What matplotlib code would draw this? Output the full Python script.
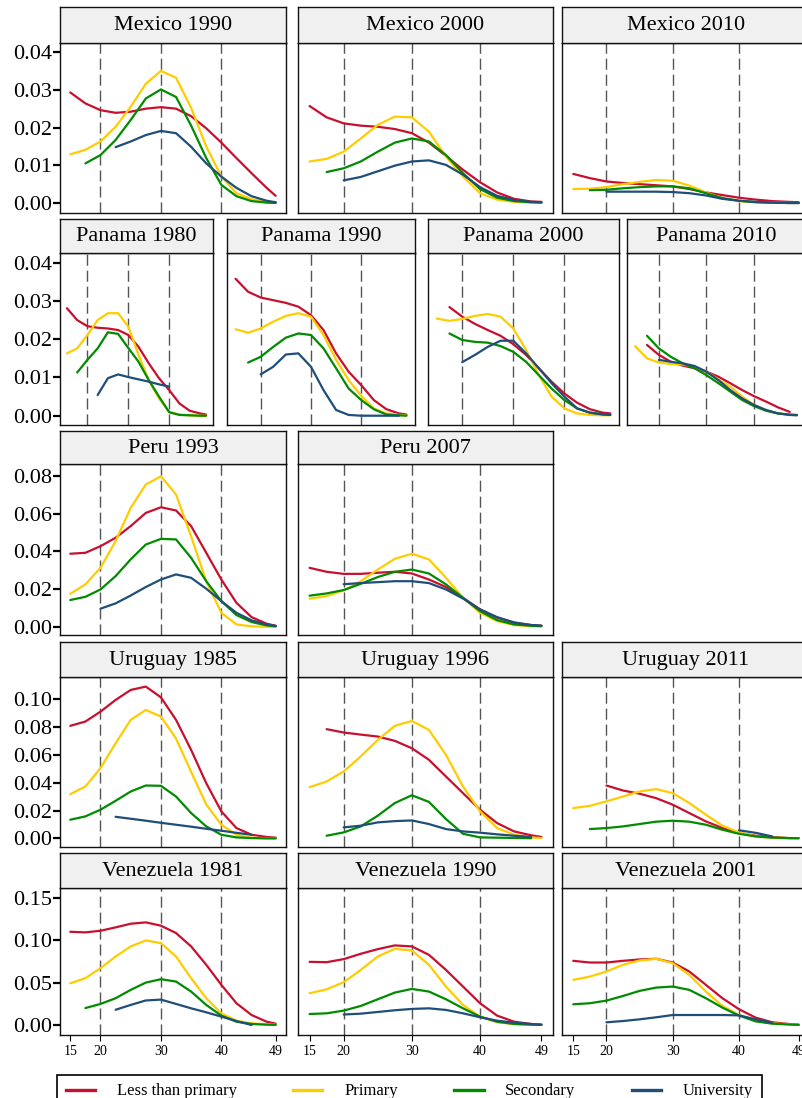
import numpy as np
import matplotlib.pyplot as plt
from matplotlib.lines import Line2D

plt.rcParams['font.family'] = ['Liberation Serif', 'DejaVu Serif']

N = None

# ages where each curve was read (None = curve not drawn at that age)
ages = [15, 17.5, 20, 22.5, 25, 27.5, 30, 32.5, 35, 37.5, 40, 42.5, 45, 47.5, 49]
education = ['Less than primary', 'Primary', 'Secondary', 'University']
colors = ['#C8102E', '#FFCC00', '#008B00', '#1F4E79']

# Mexico
mex1990_ltp = [0.0293, 0.0264, 0.0246, 0.0239, 0.0242, 0.0250, 0.0254, 0.0250, 0.0230, 0.0198, 0.0160, 0.0119, 0.0079, 0.0040, 0.0019]
mex1990_pri = [0.0129, 0.0141, 0.0163, 0.0202, 0.0255, 0.0316, 0.0350, 0.0332, 0.0252, 0.0150, 0.0070, 0.0026, 0.0010, 0.0003, 0.0002]
mex1990_sec = [N, 0.0105, 0.0127, 0.0167, 0.0220, 0.0277, 0.0301, 0.0281, 0.0205, 0.0119, 0.0048, 0.0018, 0.0005, 0.0001, 0.0000]
mex1990_uni = [N, N, N, 0.0148, 0.0163, 0.0180, 0.0191, 0.0185, 0.0149, 0.0105, 0.0070, 0.0040, 0.0018, 0.0006, 0.0002]

mex2000_ltp = [0.0257, 0.0227, 0.0211, 0.0205, 0.0202, 0.0196, 0.0185, 0.0160, 0.0125, 0.0088, 0.0055, 0.0028, 0.0011, 0.0004, 0.0003]
mex2000_pri = [0.0110, 0.0117, 0.0136, 0.0171, 0.0207, 0.0229, 0.0227, 0.0189, 0.0123, 0.0070, 0.0026, 0.0009, 0.0003, 0.0001, 0.0001]
mex2000_sec = [N, 0.0082, 0.0092, 0.0110, 0.0136, 0.0160, 0.0171, 0.0163, 0.0127, 0.0079, 0.0037, 0.0014, 0.0005, 0.0002, 0.0001]
mex2000_uni = [N, N, 0.0060, 0.0069, 0.0084, 0.0099, 0.0110, 0.0113, 0.0101, 0.0075, 0.0042, 0.0019, 0.0008, 0.0003, 0.0002]

mex2010_ltp = [0.0077, 0.0066, 0.0057, 0.0053, 0.0050, 0.0047, 0.0044, 0.0037, 0.0028, 0.0021, 0.0014, 0.0009, 0.0005, 0.0003, 0.0002]
mex2010_pri = [0.0037, 0.0038, 0.0042, 0.0050, 0.0056, 0.0061, 0.0059, 0.0046, 0.0028, 0.0013, 0.0005, 0.0002, 0.0001, 0.0000, 0.0000]
mex2010_sec = [N, 0.0034, 0.0035, 0.0039, 0.0042, 0.0044, 0.0044, 0.0039, 0.0026, 0.0013, 0.0006, 0.0002, 0.0001, 0.0000, 0.0000]
mex2010_uni = [N, N, 0.0030, 0.0030, 0.0030, 0.0030, 0.0029, 0.0026, 0.0020, 0.0011, 0.0006, 0.0003, 0.0001, 0.0000, 0.0000]

# Panama
pan1980_ltp = [0.0281, 0.0250, 0.0234, 0.0230, 0.0228, 0.0224, 0.0211, 0.0180, 0.0137, 0.0098, 0.0067, 0.0032, 0.0013, 0.0006, 0.0003]
pan1980_pri = [0.0163, 0.0176, 0.0211, 0.0250, 0.0268, 0.0268, 0.0233, 0.0159, 0.0093, 0.0045, 0.0010, 0.0003, 0.0001, 0.0000, 0.0000]
pan1980_sec = [N, 0.0113, 0.0146, 0.0176, 0.0218, 0.0214, 0.0177, 0.0141, 0.0093, 0.0050, 0.0009, 0.0002, 0.0001, 0.0000, 0.0000]
pan1980_uni = [N, N, N, 0.0054, 0.0098, 0.0108, 0.0101, 0.0095, 0.0089, 0.0082, 0.0076, N, N, N, N]

pan1990_ltp = [0.0358, 0.0324, 0.0309, 0.0302, 0.0295, 0.0285, 0.0263, 0.0224, 0.0163, 0.0115, 0.0080, 0.0041, 0.0017, 0.0006, 0.0003]
pan1990_pri = [0.0226, 0.0217, 0.0228, 0.0246, 0.0261, 0.0268, 0.0259, 0.0211, 0.0146, 0.0093, 0.0052, 0.0019, 0.0006, 0.0002, 0.0001]
pan1990_sec = [N, 0.0139, 0.0154, 0.0180, 0.0204, 0.0215, 0.0211, 0.0176, 0.0124, 0.0071, 0.0041, 0.0017, 0.0003, 0.0001, 0.0000]
pan1990_uni = [N, N, 0.0108, 0.0128, 0.0160, 0.0163, 0.0128, 0.0067, 0.0015, 0.0002, 0.0000, 0.0000, 0.0000, 0.0000, N]

pan2000_ltp = [N, 0.0284, 0.0259, 0.0240, 0.0224, 0.0209, 0.0187, 0.0159, 0.0124, 0.0089, 0.0058, 0.0034, 0.0017, 0.0008, 0.0006]
pan2000_pri = [0.0254, 0.0248, 0.0253, 0.0261, 0.0266, 0.0259, 0.0228, 0.0172, 0.0106, 0.0050, 0.0019, 0.0006, 0.0002, 0.0001, 0.0001]
pan2000_sec = [N, 0.0215, 0.0198, 0.0193, 0.0191, 0.0182, 0.0167, 0.0141, 0.0106, 0.0071, 0.0041, 0.0019, 0.0008, 0.0004, 0.0003]
pan2000_uni = [N, N, 0.0140, 0.0159, 0.0180, 0.0196, 0.0196, 0.0163, 0.0124, 0.0085, 0.0050, 0.0019, 0.0008, 0.0003, 0.0002]

pan2010_ltp = [N, 0.0185, 0.0159, 0.0141, 0.0131, 0.0124, 0.0115, 0.0102, 0.0085, 0.0067, 0.0051, 0.0037, 0.0022, 0.0010, N]
pan2010_pri = [0.0182, 0.0150, 0.0139, 0.0135, 0.0134, 0.0128, 0.0115, 0.0095, 0.0076, 0.0050, 0.0028, 0.0015, 0.0006, 0.0002, 0.0002]
pan2010_sec = [N, 0.0209, 0.0176, 0.0154, 0.0137, 0.0124, 0.0106, 0.0085, 0.0063, 0.0041, 0.0025, 0.0013, 0.0006, 0.0003, 0.0002]
pan2010_uni = [N, N, 0.0146, 0.0141, 0.0137, 0.0130, 0.0115, 0.0093, 0.0067, 0.0045, 0.0028, 0.0015, 0.0006, 0.0002, 0.0001]

# Peru
per1993_ltp = [0.0388, 0.0393, 0.0428, 0.0473, 0.0535, 0.0605, 0.0635, 0.0618, 0.0535, 0.0393, 0.0251, 0.0127, 0.0051, 0.0016, 0.0005]
per1993_pri = [0.0175, 0.0225, 0.0313, 0.0455, 0.0632, 0.0756, 0.0800, 0.0703, 0.0480, 0.0242, 0.0074, 0.0012, 0.0002, 0.0000, 0.0000]
per1993_sec = [0.0142, 0.0159, 0.0198, 0.0269, 0.0358, 0.0437, 0.0467, 0.0464, 0.0366, 0.0242, 0.0136, 0.0062, 0.0025, 0.0007, 0.0002]
per1993_uni = [N, N, 0.0096, 0.0124, 0.0166, 0.0211, 0.0251, 0.0278, 0.0260, 0.0202, 0.0136, 0.0074, 0.0034, 0.0012, 0.0004]

per2007_ltp = [0.0313, 0.0292, 0.0281, 0.0281, 0.0287, 0.0292, 0.0283, 0.0251, 0.0211, 0.0154, 0.0092, 0.0048, 0.0021, 0.0009, 0.0005]
per2007_pri = [0.0149, 0.0163, 0.0193, 0.0242, 0.0304, 0.0361, 0.0388, 0.0358, 0.0260, 0.0154, 0.0074, 0.0030, 0.0009, 0.0003, 0.0002]
per2007_sec = [0.0165, 0.0177, 0.0195, 0.0228, 0.0264, 0.0292, 0.0304, 0.0283, 0.0225, 0.0154, 0.0083, 0.0035, 0.0012, 0.0005, 0.0003]
per2007_uni = [N, N, 0.0226, 0.0232, 0.0237, 0.0242, 0.0242, 0.0232, 0.0198, 0.0150, 0.0092, 0.0051, 0.0023, 0.0009, 0.0006]

# Uruguay
uru1985_ltp = [0.0809, 0.0840, 0.0911, 0.0995, 0.1067, 0.1091, 0.1014, 0.0852, 0.0636, 0.0397, 0.0194, 0.0074, 0.0026, 0.0010, 0.0005]
uru1985_pri = [0.0318, 0.0373, 0.0505, 0.0684, 0.0852, 0.0923, 0.0876, 0.0718, 0.0478, 0.0244, 0.0098, 0.0025, 0.0005, 0.0001, 0.0000]
uru1985_sec = [0.0134, 0.0158, 0.0206, 0.0270, 0.0337, 0.0380, 0.0378, 0.0301, 0.0182, 0.0086, 0.0026, 0.0007, 0.0002, 0.0000, 0.0000]
uru1985_uni = [N, N, N, 0.0155, 0.0141, 0.0127, 0.0112, 0.0098, 0.0084, 0.0069, 0.0055, 0.0040, 0.0026, N, N]

uru1996_ltp = [N, 0.0785, 0.0761, 0.0746, 0.0732, 0.0701, 0.0648, 0.0565, 0.0445, 0.0325, 0.0206, 0.0110, 0.0050, 0.0022, 0.0010]
uru1996_pri = [0.0368, 0.0409, 0.0481, 0.0589, 0.0708, 0.0809, 0.0844, 0.0780, 0.0600, 0.0373, 0.0194, 0.0074, 0.0026, 0.0007, 0.0002]
uru1996_sec = [N, 0.0019, 0.0043, 0.0086, 0.0163, 0.0254, 0.0310, 0.0262, 0.0139, 0.0033, 0.0007, 0.0005, 0.0003, 0.0001, N]
uru1996_uni = [N, N, 0.0079, 0.0091, 0.0115, 0.0124, 0.0129, 0.0103, 0.0067, 0.0050, 0.0041, 0.0029, 0.0019, 0.0010, N]

uru2011_ltp = [N, N, 0.0380, 0.0344, 0.0321, 0.0289, 0.0242, 0.0182, 0.0122, 0.0074, 0.0038, 0.0019, 0.0010, 0.0002, 0.0002]
uru2011_pri = [0.0218, 0.0234, 0.0266, 0.0301, 0.0337, 0.0354, 0.0325, 0.0254, 0.0170, 0.0091, 0.0043, 0.0014, 0.0005, 0.0002, 0.0001]
uru2011_sec = [N, 0.0067, 0.0074, 0.0086, 0.0103, 0.0120, 0.0127, 0.0120, 0.0098, 0.0062, 0.0033, 0.0014, 0.0005, 0.0002, 0.0001]
uru2011_uni = [N, N, N, N, N, N, N, N, N, N, 0.0058, 0.0040, 0.0014, N, N]

# Venezuela
ven1981_ltp = [0.1101, 0.1094, 0.1113, 0.1153, 0.1196, 0.1212, 0.1173, 0.1086, 0.0928, 0.0711, 0.0474, 0.0257, 0.0118, 0.0039, 0.0016]
ven1981_pri = [0.0493, 0.0553, 0.0671, 0.0809, 0.0928, 0.0999, 0.0967, 0.0809, 0.0553, 0.0316, 0.0138, 0.0051, 0.0020, 0.0008, 0.0004]
ven1981_sec = [N, 0.0200, 0.0249, 0.0316, 0.0415, 0.0501, 0.0541, 0.0513, 0.0395, 0.0237, 0.0111, 0.0039, 0.0012, 0.0004, 0.0002]
ven1981_uni = [N, N, N, 0.0180, 0.0237, 0.0290, 0.0300, 0.0249, 0.0197, 0.0150, 0.0099, 0.0047, 0.0000, N, N]

ven1990_ltp = [0.0746, 0.0742, 0.0778, 0.0841, 0.0896, 0.0940, 0.0928, 0.0829, 0.0651, 0.0454, 0.0257, 0.0111, 0.0039, 0.0012, 0.0004]
ven1990_pri = [0.0375, 0.0422, 0.0505, 0.0651, 0.0809, 0.0900, 0.0880, 0.0711, 0.0454, 0.0237, 0.0099, 0.0032, 0.0012, 0.0004, 0.0002]
ven1990_sec = [0.0130, 0.0138, 0.0170, 0.0225, 0.0304, 0.0383, 0.0426, 0.0395, 0.0304, 0.0197, 0.0099, 0.0039, 0.0012, 0.0004, 0.0002]
ven1990_uni = [N, N, 0.0124, 0.0134, 0.0154, 0.0174, 0.0190, 0.0197, 0.0178, 0.0138, 0.0091, 0.0051, 0.0028, 0.0012, 0.0004]

ven2001_ltp = [0.0758, 0.0738, 0.0738, 0.0758, 0.0774, 0.0782, 0.0738, 0.0632, 0.0474, 0.0316, 0.0186, 0.0087, 0.0032, 0.0012, 0.0004]
ven2001_pri = [0.0533, 0.0572, 0.0632, 0.0711, 0.0762, 0.0782, 0.0730, 0.0592, 0.0395, 0.0225, 0.0118, 0.0051, 0.0020, 0.0008, 0.0004]
ven2001_sec = [0.0245, 0.0257, 0.0288, 0.0343, 0.0403, 0.0442, 0.0454, 0.0415, 0.0316, 0.0205, 0.0111, 0.0043, 0.0016, 0.0006, 0.0002]
ven2001_uni = [N, N, 0.0032, 0.0047, 0.0067, 0.0091, 0.0118, 0.0118, 0.0118, 0.0118, 0.0114, 0.0067, 0.0028, N, N]

# y axis per row
row_yticks = [[0, 0.01, 0.02, 0.03, 0.04],
              [0, 0.01, 0.02, 0.03, 0.04],
              [0, 0.02, 0.04, 0.06, 0.08],
              [0, 0.02, 0.04, 0.06, 0.08, 0.10],
              [0, 0.05, 0.10, 0.15]]
row_ylim = [(-0.00265, 0.0424), (-0.00243, 0.04254), (-0.0044, 0.0865),
            (-0.0062, 0.116), (-0.0118, 0.1618)]

rows = [
    [('Mexico 1990', [mex1990_ltp, mex1990_pri, mex1990_sec, mex1990_uni]),
     ('Mexico 2000', [mex2000_ltp, mex2000_pri, mex2000_sec, mex2000_uni]),
     ('Mexico 2010', [mex2010_ltp, mex2010_pri, mex2010_sec, mex2010_uni])],
    [('Panama 1980', [pan1980_ltp, pan1980_pri, pan1980_sec, pan1980_uni]),
     ('Panama 1990', [pan1990_ltp, pan1990_pri, pan1990_sec, pan1990_uni]),
     ('Panama 2000', [pan2000_ltp, pan2000_pri, pan2000_sec, pan2000_uni]),
     ('Panama 2010', [pan2010_ltp, pan2010_pri, pan2010_sec, pan2010_uni])],
    [('Peru 1993', [per1993_ltp, per1993_pri, per1993_sec, per1993_uni]),
     ('Peru 2007', [per2007_ltp, per2007_pri, per2007_sec, per2007_uni])],
    [('Uruguay 1985', [uru1985_ltp, uru1985_pri, uru1985_sec, uru1985_uni]),
     ('Uruguay 1996', [uru1996_ltp, uru1996_pri, uru1996_sec, uru1996_uni]),
     ('Uruguay 2011', [uru2011_ltp, uru2011_pri, uru2011_sec, uru2011_uni])],
    [('Venezuela 1981', [ven1981_ltp, ven1981_pri, ven1981_sec, ven1981_uni]),
     ('Venezuela 1990', [ven1990_ltp, ven1990_pri, ven1990_sec, ven1990_uni]),
     ('Venezuela 2001', [ven2001_ltp, ven2001_pri, ven2001_sec, ven2001_uni])],
]

# layout in pixels: (strip top, panel top, panel bottom) and column x-extents
W, H = 803, 1098
row_y = [(7, 43, 213), (219, 253, 425), (431, 464, 635), (642, 677, 847), (853, 888, 1035)]
cols3 = [(60, 286), (298, 553), (562, 810)]
row_cols = [cols3, [(60, 213), (227, 415), (428, 619), (627, 805)], cols3[:2], cols3, cols3]

fig = plt.figure(figsize=(W / 100, H / 100), dpi=100)

def px_box(x0, x1, y0, y1):
    return [x0 / W, 1 - y1 / H, (x1 - x0) / W, (y1 - y0) / H]

x = np.array(ages, dtype=float)
for r, panels in enumerate(rows):
    st, pt, pb = row_y[r]
    for c, (title, series) in enumerate(panels):
        x0, x1 = row_cols[r][c]
        ax = fig.add_axes(px_box(x0, x1, pt, pb))
        for xv in [20, 30, 40]:
            ax.axvline(xv, color='#555555', lw=1.0, dashes=(8, 3.5), zorder=1)
        for vals, col in zip(series, colors):
            ax.plot(x, np.array(vals, dtype=float), color=col, lw=1.6, zorder=2,
                    solid_capstyle='round', solid_joinstyle='round')
        ax.set_xlim(13.3, 50.7)
        ax.set_ylim(*row_ylim[r])
        for s in ax.spines.values():
            s.set_color('#111111')
            s.set_linewidth(1.0)
        if c == 0:
            ax.set_yticks(row_yticks[r])
            ax.set_yticklabels(['%.2f' % v for v in row_yticks[r]], fontsize=16)
            ax.tick_params(axis='y', length=5, width=1.6, pad=1, color='black')
        else:
            ax.set_yticks([])
        if r == len(rows) - 1:
            ax.set_xticks([15, 20, 30, 40, 49])
            ax.tick_params(axis='x', length=4, width=0.8, pad=3, labelsize=10)
        else:
            ax.set_xticks([])

        sax = fig.add_axes(px_box(x0, x1, st, pt))
        sax.set_facecolor('#F0F0F0')
        sax.set_xticks([])
        sax.set_yticks([])
        for s in sax.spines.values():
            s.set_color('#111111')
            s.set_linewidth(1.0)
        sax.text(0.5, 0.48, title, ha='center', va='center', fontsize=16,
                 transform=sax.transAxes)

handles = [Line2D([], [], color=col, lw=2.4) for col in colors]
leg = fig.legend(handles, education, loc='upper center', ncol=4,
                 bbox_to_anchor=(409.5 / W, 1 - 1075 / H), borderaxespad=0,
                 fontsize=12, frameon=True, fancybox=False, edgecolor='black',
                 framealpha=1, handlelength=1.75, handletextpad=1.3,
                 columnspacing=3.4, borderpad=0.5)
leg.get_frame().set_linewidth(1.2)

fig.savefig('out.png', dpi=100)
